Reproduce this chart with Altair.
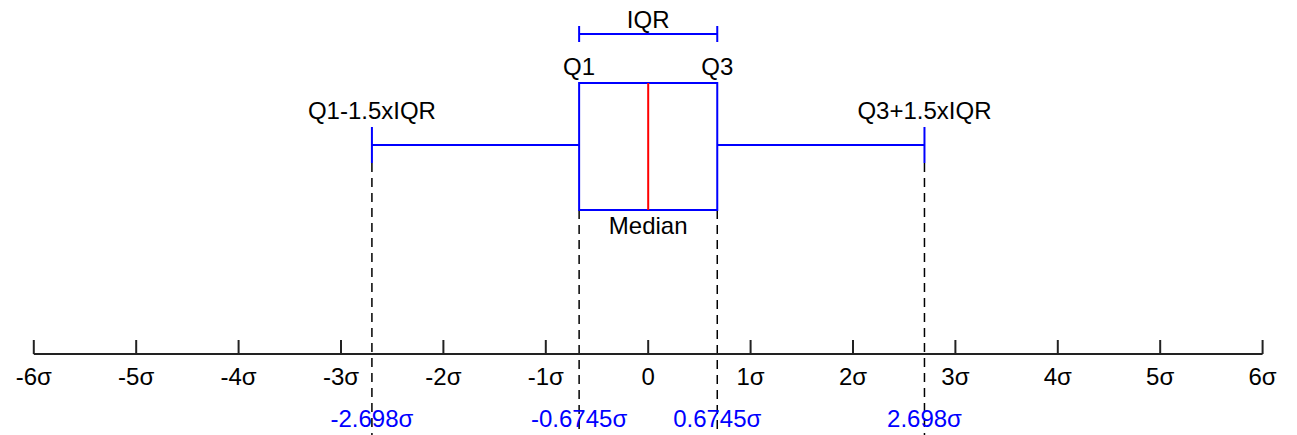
import altair as alt
import pandas as pd

# ---- data ----
tick_values = [-6, -5, -4, -3, -2, -1, 0, 1, 2, 3, 4, 5, 6]
tick_labels = ["-6σ", "-5σ", "-4σ", "-3σ", "-2σ", "-1σ", "0", "1σ", "2σ", "3σ", "4σ", "5σ", "6σ"]
q1, median, q3 = -0.6745, 0.0, 0.6745
lower_fence, upper_fence = -2.698, 2.698
marker_values = [lower_fence, q1, q3, upper_fence]
marker_labels = ["-2.698σ", "-0.6745σ", "0.6745σ", "2.698σ"]
fence_labels = ["Q1-1.5xIQR", "Q3+1.5xIQR"]
quart_labels = ["Q1", "Q3"]

# ---- layout (vertical levels, px from top) ----
W, H = 1297, 435
Y_IQR_TEXT, Y_IQR, IQR_CAP = 21, 34, 8
Y_QLAB, Y_BOX_TOP, Y_BOX_BOT = 68, 83, 210
Y_WHISK, WHISK_CAP = 145, 18
Y_FENCE_LAB, Y_MED_LAB = 112, 227
Y_AXIS, TICK_LEN, Y_TICK_LAB = 354, 14, 378
Y_MARK_LAB, Y_BOTTOM = 420, 435
FONT, FS = "Liberation Sans", 24
BLUE, RED, BLACK = "#0000ff", "#ff0000", "#000000"

xs = alt.Scale(domain=[-6.33, 6.336], nice=False, zero=False)
ys = alt.Scale(domain=[0, H], reverse=True, nice=False, zero=False)


def X(f="x"):
    return alt.X(f"{f}:Q", scale=xs, axis=None)


def Y(f="y"):
    return alt.Y(f"{f}:Q", scale=ys, axis=None)


# dashed guide lines
dash_df = pd.DataFrame({
    "x": marker_values,
    "y": [Y_WHISK + WHISK_CAP, Y_BOX_BOT, Y_BOX_BOT, Y_WHISK + WHISK_CAP],
    "y2": [Y_BOTTOM] * 4,
})
dashes = alt.Chart(dash_df).mark_rule(color=BLACK, strokeWidth=1.5, strokeDash=[9, 6]).encode(
    x=X(), y=Y(), y2="y2:Q")

# axis line + ticks + labels
axis_df = pd.DataFrame({"x": [tick_values[0]], "x2": [tick_values[-1]], "y": [Y_AXIS]})
axis_line = alt.Chart(axis_df).mark_rule(color="#222222", strokeWidth=2).encode(x=X(), x2="x2:Q", y=Y())

tick_df = pd.DataFrame({"x": tick_values, "label": tick_labels,
                        "y": [Y_AXIS - TICK_LEN] * len(tick_values), "y2": [Y_AXIS] * len(tick_values),
                        "yl": [Y_TICK_LAB] * len(tick_values)})
ticks = alt.Chart(tick_df).mark_rule(color="#222222", strokeWidth=2).encode(x=X(), y=Y(), y2="y2:Q")
tick_text = alt.Chart(tick_df).mark_text(font=FONT, fontSize=FS, color=BLACK, baseline="middle", align="center").encode(
    x=X(), y=Y("yl"), text="label:N")

mark_df = pd.DataFrame({"x": marker_values, "label": marker_labels, "y": [Y_MARK_LAB] * 4})
mark_text = alt.Chart(mark_df).mark_text(font=FONT, fontSize=FS, color=BLUE, baseline="middle", align="center").encode(
    x=X(), y=Y(), text="label:N")

# whiskers
wh_df = pd.DataFrame({"x": [lower_fence, q3], "x2": [q1, upper_fence], "y": [Y_WHISK] * 2})
whiskers = alt.Chart(wh_df).mark_rule(color=BLUE, strokeWidth=2).encode(x=X(), x2="x2:Q", y=Y())
cap_df = pd.DataFrame({"x": [lower_fence, upper_fence], "y": [Y_WHISK - WHISK_CAP] * 2,
                       "y2": [Y_WHISK + WHISK_CAP] * 2})
caps = alt.Chart(cap_df).mark_rule(color=BLUE, strokeWidth=2).encode(x=X(), y=Y(), y2="y2:Q")

# box
box_df = pd.DataFrame({"x": [q1], "x2": [q3], "y": [Y_BOX_TOP], "y2": [Y_BOX_BOT]})
box = alt.Chart(box_df).mark_rect(fill="white", stroke=BLUE, strokeWidth=2).encode(
    x=X(), x2="x2:Q", y=Y(), y2="y2:Q")
med_df = pd.DataFrame({"x": [median], "y": [Y_BOX_TOP], "y2": [Y_BOX_BOT]})
med = alt.Chart(med_df).mark_rule(color=RED, strokeWidth=2).encode(x=X(), y=Y(), y2="y2:Q")

# IQR bracket
iqr_df = pd.DataFrame({"x": [q1], "x2": [q3], "y": [Y_IQR]})
iqr_line = alt.Chart(iqr_df).mark_rule(color=BLUE, strokeWidth=2).encode(x=X(), x2="x2:Q", y=Y())
iqr_cap_df = pd.DataFrame({"x": [q1, q3], "y": [Y_IQR - IQR_CAP] * 2, "y2": [Y_IQR + IQR_CAP] * 2})
iqr_caps = alt.Chart(iqr_cap_df).mark_rule(color=BLUE, strokeWidth=2).encode(x=X(), y=Y(), y2="y2:Q")

# black annotation texts
ann_df = pd.DataFrame({
    "x": [(q1 + q3) / 2, q1, q3, lower_fence, upper_fence, median],
    "y": [Y_IQR_TEXT, Y_QLAB, Y_QLAB, Y_FENCE_LAB, Y_FENCE_LAB, Y_MED_LAB],
    "label": ["IQR"] + quart_labels + fence_labels + ["Median"],
})
ann = alt.Chart(ann_df).mark_text(font=FONT, fontSize=FS, color=BLACK, baseline="middle", align="center").encode(
    x=X(), y=Y(), text="label:N")

chart = alt.layer(
    dashes, axis_line, ticks, tick_text, mark_text,
    whiskers, caps, box, med, iqr_line, iqr_caps, ann,
).properties(
    width=W, height=H, padding=0, autosize=alt.AutoSizeParams(type="none"), background="white"
).configure_view(stroke=None)

chart.save("out.html", embed_options={"renderer": "svg", "actions": False})
